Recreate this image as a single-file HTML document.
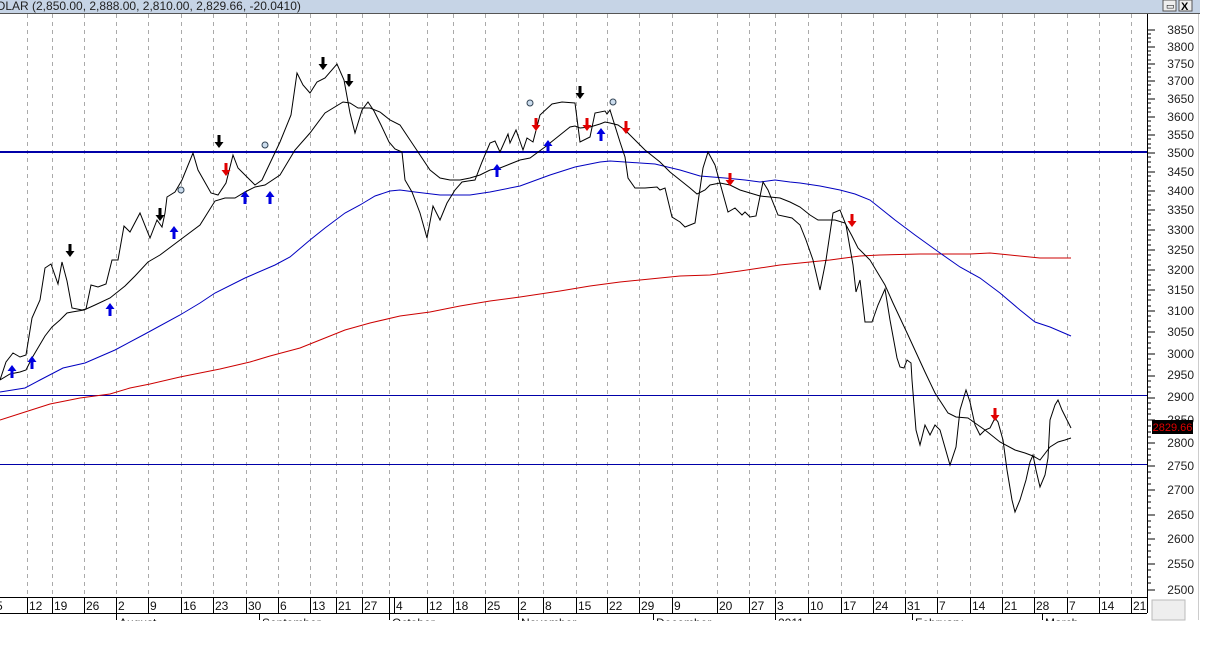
<!DOCTYPE html>
<html><head><meta charset="utf-8"><style>
html,body{margin:0;padding:0;background:#fff;width:1216px;height:655px;overflow:hidden;font-family:"Liberation Sans",sans-serif}
</style></head><body>
<svg width="1216" height="655" xmlns="http://www.w3.org/2000/svg" font-family="Liberation Sans, sans-serif">
<rect x="0" y="0" width="1216" height="655" fill="#fff"/>
<rect x="0" y="0" width="1200" height="13" fill="#c6d4e6"/>
<line x1="0" y1="13.5" x2="1200" y2="13.5" stroke="#555" stroke-width="1"/>
<text x="-4" y="10" font-size="12" fill="#222">OLAR (2,850.00, 2,888.00, 2,810.00, 2,829.66, -20.0410)</text>
<rect x="1163" y="0" width="13" height="11" fill="#eee" stroke="#555"/>
<rect x="1179" y="0" width="13" height="11" fill="#eee" stroke="#555"/>
<text x="1166" y="9" font-size="9">▭</text>
<text x="1181" y="10" font-size="11" font-weight="bold">X</text>
<line x1="1198.5" y1="14" x2="1198.5" y2="620" stroke="#ccc"/>
<g stroke="#aaa" stroke-dasharray="4,4" stroke-width="1">
<line x1="27.5" y1="14" x2="27.5" y2="597"/><line x1="52.5" y1="14" x2="52.5" y2="597"/><line x1="84.5" y1="14" x2="84.5" y2="597"/><line x1="116.5" y1="14" x2="116.5" y2="597"/><line x1="148.5" y1="14" x2="148.5" y2="597"/><line x1="181.5" y1="14" x2="181.5" y2="597"/><line x1="213.5" y1="14" x2="213.5" y2="597"/><line x1="246.5" y1="14" x2="246.5" y2="597"/><line x1="278.5" y1="14" x2="278.5" y2="597"/><line x1="310.5" y1="14" x2="310.5" y2="597"/><line x1="336.5" y1="14" x2="336.5" y2="597"/><line x1="362.5" y1="14" x2="362.5" y2="597"/><line x1="389.5" y1="14" x2="389.5" y2="597"/><line x1="427.5" y1="14" x2="427.5" y2="597"/><line x1="453.5" y1="14" x2="453.5" y2="597"/><line x1="485.5" y1="14" x2="485.5" y2="597"/><line x1="518.5" y1="14" x2="518.5" y2="597"/><line x1="543.5" y1="14" x2="543.5" y2="597"/><line x1="576.5" y1="14" x2="576.5" y2="597"/><line x1="607.5" y1="14" x2="607.5" y2="597"/><line x1="639.5" y1="14" x2="639.5" y2="597"/><line x1="672.5" y1="14" x2="672.5" y2="597"/><line x1="717.5" y1="14" x2="717.5" y2="597"/><line x1="749.5" y1="14" x2="749.5" y2="597"/><line x1="775.5" y1="14" x2="775.5" y2="597"/><line x1="808.5" y1="14" x2="808.5" y2="597"/><line x1="841.5" y1="14" x2="841.5" y2="597"/><line x1="873.5" y1="14" x2="873.5" y2="597"/><line x1="905.5" y1="14" x2="905.5" y2="597"/><line x1="937.5" y1="14" x2="937.5" y2="597"/><line x1="970.5" y1="14" x2="970.5" y2="597"/><line x1="1002.5" y1="14" x2="1002.5" y2="597"/><line x1="1034.5" y1="14" x2="1034.5" y2="597"/><line x1="1067.5" y1="14" x2="1067.5" y2="597"/><line x1="1099.5" y1="14" x2="1099.5" y2="597"/><line x1="1131.5" y1="14" x2="1131.5" y2="597"/>
</g>
<line x1="0" y1="152" x2="1147" y2="152" stroke="#0000a8" stroke-width="2"/>
<line x1="0" y1="395.5" x2="1147" y2="395.5" stroke="#0000a8" stroke-width="1"/>
<line x1="0" y1="464.5" x2="1147" y2="464.5" stroke="#0000a8" stroke-width="1"/>
<polyline fill="none" stroke="#cc0000" stroke-width="1" points="0,420 25,412 50,404 80,398 110,394 130,388 150,384 180,377 220,369 250,362 270,356 300,348 320,340 345,330 370,323 400,316 430,312 460,306 490,301 520,297 560,291 590,286 620,282 650,279 680,276 710,275 740,271 760,268 780,265 800,263 830,260 860,256 880,255 920,254 970,254 990,253 1010,255 1040,258 1071,258"/>
<polyline fill="none" stroke="#0000c0" stroke-width="1" points="0,392 25,388 40,380 63,368 85,363 115,350 145,334 180,315 200,303 215,293 245,278 275,265 290,257 310,240 325,228 345,213 360,205 375,196 390,191 400,190 415,192 440,195 470,195 490,192 520,186 550,175 575,167 600,162 610,161 625,162 640,163 655,164 680,170 700,176 725,178 745,180 760,182 775,180 790,182 800,183 820,186 840,190 855,194 870,200 880,208 895,220 915,235 940,253 960,267 980,278 1000,293 1020,310 1035,322 1050,327 1071,336"/>
<polyline fill="none" stroke="#000" stroke-width="1" points="0,380 10,374 20,372 26,370 32,358 45,336 52,327 60,320 67,313 72,312 84,310 95,305 110,298 125,286 135,276 148,262 160,255 180,240 200,225 215,201 225,198 235,198 245,192 255,187 265,185 280,175 295,150 310,133 325,113 343,102 350,103 358,108 370,108 380,112 390,120 400,125 410,140 420,155 430,170 440,178 450,180 460,180 470,178 480,175 490,170 500,168 510,164 520,160 530,158 545,147 560,135 570,127 575,126 580,128 590,127 600,124 605,122 610,123 618,125 625,130 635,140 645,150 660,162 670,172 680,180 690,188 697,194 705,190 710,185 720,183 730,185 740,190 750,193 760,196 770,197 780,198 790,202 800,207 810,215 818,220 826,220 835,220 845,223 852,236 858,248 870,260 885,285 893,303 908,335 925,372 935,393 948,413 956,417 968,418 975,423 985,430 1000,442 1015,450 1025,453 1033,456 1040,460 1050,447 1058,442 1065,440 1071,438"/>
<polyline fill="none" stroke="#000" stroke-width="1" points="0,380 6,362 13,353 20,357 26,355 32,318 40,300 45,268 51,264 58,284 62,262 67,281 72,308 82,310 86,309 91,285 98,287 106,284 112,260 118,260 124,226 130,232 140,213 150,238 157,220 162,227 165,213 167,197 175,192 182,180 193,153 198,170 211,193 218,195 226,183 233,155 238,168 245,175 255,185 262,180 280,142 291,115 297,73 303,85 310,93 317,82 325,78 337,64 344,80 350,113 355,133 362,110 368,102 374,111 381,125 389,142 395,149 402,152 405,180 412,192 420,213 427,238 433,206 440,220 447,203 455,190 462,182 468,181 475,180 482,162 490,143 495,141 500,152 508,134 510,143 516,130 523,150 527,138 533,142 540,115 552,104 562,102 575,103 580,142 590,137 595,113 605,111 607,114 610,110 620,142 625,157 628,178 635,188 645,188 657,187 660,190 665,188 672,217 680,222 685,227 695,223 703,168 708,152 715,165 728,212 735,208 742,215 745,212 750,217 756,216 763,182 768,190 778,215 792,218 800,225 806,240 813,260 820,290 826,260 833,213 840,210 846,225 850,248 853,265 856,292 860,280 865,322 872,322 878,305 885,289 890,320 897,358 900,367 904,368 907,360 911,363 912,380 916,430 920,445 925,425 930,435 935,425 940,430 950,465 956,447 960,410 966,390 970,402 975,425 980,435 985,430 990,428 995,418 998,422 1003,440 1007,470 1012,500 1015,512 1020,500 1026,480 1030,462 1033,455 1036,470 1040,487 1045,475 1048,458 1050,420 1055,405 1058,400 1062,410 1067,420 1071,428"/>
<defs>
<path id="dn" d="M-1.5,-7 h3 v7 h3 l-4.5,6 l-4.5,-6 h3 z"/>
<path id="up" d="M-1.5,7 h3 v-7 h3 l-4.5,-6 l-4.5,6 h3 z"/>
</defs>
<g fill="#000"><use href="#dn" x="70" y="251"/><use href="#dn" x="160" y="215"/><use href="#dn" x="219" y="142"/><use href="#dn" x="323" y="64"/><use href="#dn" x="349" y="81"/><use href="#dn" x="580" y="93"/></g>
<g fill="#e00000"><use href="#dn" x="226" y="170"/><use href="#dn" x="536" y="125"/><use href="#dn" x="587" y="125"/><use href="#dn" x="626" y="128"/><use href="#dn" x="730" y="180"/><use href="#dn" x="852" y="221"/><use href="#dn" x="995" y="415"/></g>
<g fill="#0000e0"><use href="#up" x="12" y="371"/><use href="#up" x="32" y="362"/><use href="#up" x="110" y="309"/><use href="#up" x="174" y="232"/><use href="#up" x="245" y="197"/><use href="#up" x="270" y="197"/><use href="#up" x="497" y="170"/><use href="#up" x="548" y="146"/><use href="#up" x="601" y="134"/></g>
<g fill="#cde" stroke="#345" stroke-width="1"><circle cx="181" cy="190" r="3"/><circle cx="265" cy="145" r="3"/><circle cx="530" cy="103" r="3"/><circle cx="613" cy="102" r="3"/></g>
<line x1="1147.5" y1="14" x2="1147.5" y2="613" stroke="#000"/>
<g font-size="12" fill="#222" text-anchor="end">
<text x="1194" y="34">3850</text><text x="1194" y="51">3800</text><text x="1194" y="68">3750</text><text x="1194" y="85">3700</text><text x="1194" y="103">3650</text><text x="1194" y="121">3600</text><text x="1194" y="139">3550</text><text x="1194" y="157">3500</text><text x="1194" y="176">3450</text><text x="1194" y="195">3400</text><text x="1194" y="214">3350</text><text x="1194" y="234">3300</text><text x="1194" y="254">3250</text><text x="1194" y="274">3200</text><text x="1194" y="294">3150</text><text x="1194" y="315">3100</text><text x="1194" y="336">3050</text><text x="1194" y="358">3000</text><text x="1194" y="379">2950</text><text x="1194" y="401">2900</text><text x="1194" y="424">2850</text><text x="1194" y="447">2800</text><text x="1194" y="470">2750</text><text x="1194" y="494">2700</text><text x="1194" y="519">2650</text><text x="1194" y="543">2600</text><text x="1194" y="568">2550</text><text x="1194" y="594">2500</text>
</g>
<g stroke="#000" stroke-width="1">
<path d="M1147,30h8M1147,47h8M1147,64h8M1147,81h8M1147,99h8M1147,117h8M1147,135h8M1147,153h8M1147,172h8M1147,191h8M1147,210h8M1147,230h8M1147,250h8M1147,270h8M1147,290h8M1147,311h8M1147,332h8M1147,354h8M1147,376h8M1147,398h8M1147,420h8M1147,443h8M1147,466h8M1147,490h8M1147,515h8M1147,539h8M1147,564h8M1147,590h8"/>
<path d="M1147,34h4M1147,38h4M1147,42h4M1147,51h4M1147,55h4M1147,60h4M1147,68h4M1147,72h4M1147,77h4M1147,85h4M1147,90h4M1147,94h4M1147,103h4M1147,108h4M1147,112h4M1147,121h4M1147,126h4M1147,130h4M1147,139h4M1147,144h4M1147,148h4M1147,157h4M1147,162h4M1147,167h4M1147,176h4M1147,181h4M1147,186h4M1147,195h4M1147,200h4M1147,205h4M1147,214h4M1147,220h4M1147,225h4M1147,235h4M1147,240h4M1147,245h4M1147,255h4M1147,260h4M1147,265h4M1147,275h4M1147,280h4M1147,285h4M1147,295h4M1147,300h4M1147,306h4M1147,316h4M1147,321h4M1147,327h4M1147,337h4M1147,343h4M1147,348h4M1147,359h4M1147,365h4M1147,370h4M1147,381h4M1147,387h4M1147,392h4M1147,403h4M1147,409h4M1147,414h4M1147,426h4M1147,432h4M1147,437h4M1147,449h4M1147,455h4M1147,460h4M1147,472h4M1147,478h4M1147,484h4M1147,496h4M1147,502h4M1147,508h4M1147,521h4M1147,527h4M1147,533h4M1147,545h4M1147,551h4M1147,557h4M1147,570h4M1147,577h4M1147,583h4"/>
</g>
<rect x="1152" y="420" width="41" height="14" fill="#000"/>
<text x="1172.5" y="431" font-size="11" fill="#e00000" text-anchor="middle">2829.66</text>
<line x1="0" y1="597.5" x2="1147" y2="597.5" stroke="#000"/>
<line x1="0" y1="613.5" x2="1147" y2="613.5" stroke="#000"/>
<g stroke="#000"><path d="M27.5,597v16M52.5,597v16M84.5,597v16M116.5,597v16M148.5,597v16M181.5,597v16M213.5,597v16M246.5,597v16M278.5,597v16M310.5,597v16M336.5,597v16M362.5,597v16M389.5,597v16M394.5,597v16M427.5,597v16M453.5,597v16M485.5,597v16M518.5,597v16M543.5,597v16M576.5,597v16M607.5,597v16M639.5,597v16M672.5,597v16M717.5,597v16M749.5,597v16M775.5,597v16M808.5,597v16M841.5,597v16M873.5,597v16M905.5,597v16M937.5,597v16M970.5,597v16M1002.5,597v16M1034.5,597v16M1067.5,597v16M1099.5,597v16M1131.5,597v16"/>
<path d="M116.5,613v7M259.5,613v7M389.5,613v7M518.5,613v7M653.5,613v7M775.5,613v7M912.5,613v7M1042.5,613v7"/></g>
<g font-size="12" fill="#111">
<text x="-4" y="610">5</text><text x="29" y="610">12</text><text x="54" y="610">19</text><text x="86" y="610">26</text><text x="118" y="610">2</text><text x="150" y="610">9</text><text x="183" y="610">16</text><text x="215" y="610">23</text><text x="248" y="610">30</text><text x="280" y="610">6</text><text x="312" y="610">13</text><text x="338" y="610">21</text><text x="364" y="610">27</text><text x="396" y="610">4</text><text x="429" y="610">12</text><text x="455" y="610">18</text><text x="487" y="610">25</text><text x="520" y="610">2</text><text x="545" y="610">8</text><text x="578" y="610">15</text><text x="609" y="610">22</text><text x="641" y="610">29</text><text x="674" y="610">9</text><text x="719" y="610">20</text><text x="751" y="610">27</text><text x="777" y="610">3</text><text x="810" y="610">10</text><text x="843" y="610">17</text><text x="875" y="610">24</text><text x="907" y="610">31</text><text x="939" y="610">7</text><text x="972" y="610">14</text><text x="1004" y="610">21</text><text x="1036" y="610">28</text><text x="1069" y="610">7</text><text x="1101" y="610">14</text><text x="1133" y="610">21</text>
</g>
<rect x="1152" y="600" width="33" height="20" fill="#eee" stroke="#bbb"/>
<svg x="0" y="613" width="1150" height="8" overflow="hidden">
<g font-size="12" fill="#111"><text x="119" y="14">August</text><text x="262" y="14">September</text><text x="392" y="14">October</text><text x="521" y="14">November</text><text x="656" y="14">December</text><text x="778" y="14">2011</text><text x="915" y="14">February</text><text x="1045" y="14">March</text></g>
</svg>
</svg>
</body></html>
